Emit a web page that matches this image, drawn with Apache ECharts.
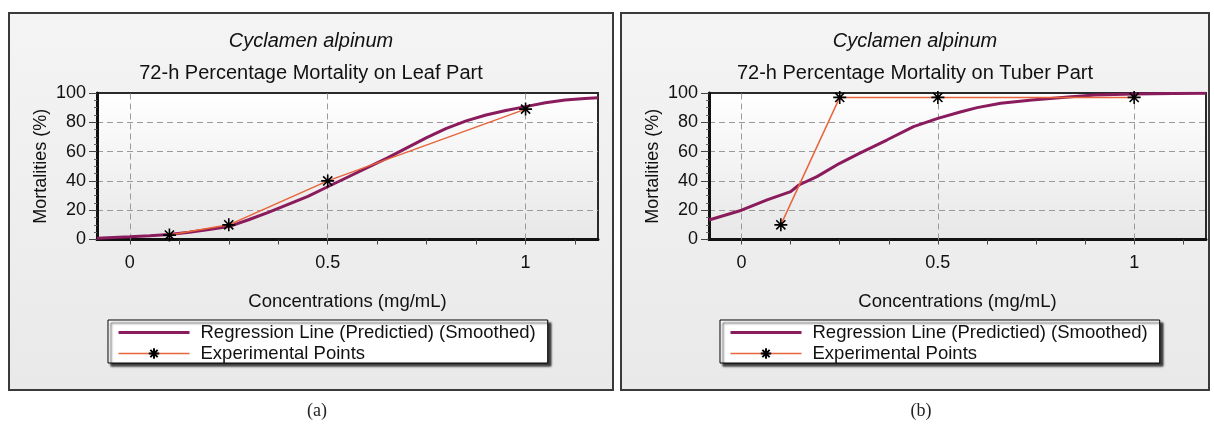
<!DOCTYPE html>
<html>
<head>
<meta charset="utf-8">
<title>Cyclamen alpinum - 72-h Percentage Mortality</title>
<script src="https://cdn.jsdelivr.net/npm/echarts@6/dist/echarts.min.js"></script>
<style>
  html, body { margin: 0; padding: 0; background: #fff; }
  #chart { width: 1214px; height: 424px; }
</style>
</head>
<body>
<div id="chart"></div>
<script>
// axis ticks
const xLabelTicks = [0, 0.5, 1];
const xMinorTicks = [0, 0.125, 0.25, 0.375, 0.5, 0.625, 0.75, 0.875, 1, 1.125];

// (a) leaf part
const leafExpX = [0.1, 0.25, 0.5, 1];
const leafExpY = [3, 10, 40, 89];
const leafRegX = [-0.083, 0, 0.05, 0.1, 0.15, 0.2, 0.25, 0.3, 0.35, 0.4, 0.45, 0.5, 0.55, 0.6,
  0.65, 0.7, 0.75, 0.8, 0.85, 0.9, 0.95, 1, 1.05, 1.1, 1.15, 1.183];
const leafRegY = [0.8, 1.8, 2.5, 3.4, 5, 6.8, 8.8, 13.5, 18.5, 24, 29.5, 36, 42.5, 49,
  55.5, 62.5, 69.5, 75.8, 81, 85, 88, 90.7, 93.3, 95.2, 96.3, 96.8];

// (b) tuber part
const tuberExpX = [0.1, 0.25, 0.5, 1];
const tuberExpY = [10, 97, 97, 97];
const tuberRegX = [-0.083, 0, 0.065, 0.125, 0.146, 0.192, 0.25, 0.3, 0.37, 0.438, 0.5, 0.557,
  0.6, 0.66, 0.74, 0.84, 0.9, 1, 1.1, 1.183];
const tuberRegY = [13.3, 20, 27, 32.7, 37.2, 42.9, 52, 58.8, 67.9, 77, 82.7, 87,
  90, 93, 95.2, 97.5, 98.6, 99.4, 99.7, 99.8];

const zip = (xs, ys) => xs.map((x, i) => [x, ys[i]]);

const FONT = "'Liberation Sans', Arial, sans-serif";
const REG_NAME = "Regression Line (Predictied) (Smoothed)";
const EXP_NAME = "Experimental Points";
const PURPLE = "#8a1b5c";
const ORANGE = "#e8643a";
const STAR = "path://M10,0L10,20M0,10L20,10M3,3L17,17M3,17L17,3";

const chart = echarts.init(document.getElementById("chart"));

// the two panels, left = (a), right = (b)
const panels = [
  { box: [9, 13, 604, 377], plotLeft: 97, plotWidth: 501, legendLeft: 108, cap: "(a)",
    title: "72-h Percentage Mortality on Leaf Part", reg: zip(leafRegX, leafRegY), exp: zip(leafExpX, leafExpY) },
  { box: [621, 13, 588, 377], plotLeft: 709, plotWidth: 497, legendLeft: 720, cap: "(b)",
    title: "72-h Percentage Mortality on Tuber Part", reg: zip(tuberRegX, tuberRegY), exp: zip(tuberExpX, tuberExpY) },
];

const plotBg = new echarts.graphic.LinearGradient(0, 0, 0, 1, [
  { offset: 0, color: "#ffffff" },
  { offset: 1, color: "#e7e7e7" },
]);
const panelBg = new echarts.graphic.LinearGradient(0, 0, 0, 1, [
  { offset: 0, color: "#f4f4f4" },
  { offset: 1, color: "#e9e9e9" },
]);

const grids = [], xAxes = [], yAxes = [], series = [], legends = [], graphics = [];

panels.forEach((p, i) => {
  const cx = p.box[0] + p.box[2] / 2;

  graphics.push({
    type: "rect", z: -10,
    shape: { x: p.box[0], y: p.box[1], width: p.box[2], height: p.box[3] },
    style: { fill: panelBg, stroke: "#3a3a3a", lineWidth: 2 },
  });
  graphics.push({
    type: "text", z: 10, x: cx, y: 41,
    style: { text: "Cyclamen alpinum", font: "italic 20px " + FONT, fill: "#111", align: "center", verticalAlign: "middle" },
  });
  graphics.push({
    type: "text", z: 10, x: cx, y: 73,
    style: { text: p.title, font: "20px " + FONT, fill: "#111", align: "center", verticalAlign: "middle" },
  });
  graphics.push({
    type: "text", z: 10, x: cx + 6, y: 411,
    style: { text: p.cap, font: "18px 'Liberation Serif', 'DejaVu Serif', serif", fill: "#222", align: "center", verticalAlign: "middle" },
  });

  grids.push({
    left: p.plotLeft, top: 93, width: p.plotWidth, height: 146.5,
    show: true, backgroundColor: plotBg, borderColor: "#2a2a2a", borderWidth: 2,
  });

  xAxes.push({
    type: "value", gridIndex: i, min: -0.083, max: 1.183,
    axisLine: { onZero: false, lineStyle: { color: "#111", width: 3 } },
    axisTick: { customValues: xMinorTicks, length: 5, lineStyle: { color: "#444" } },
    axisLabel: { customValues: xLabelTicks, margin: 15, fontSize: 18, color: "#111", fontFamily: FONT },
    splitLine: { show: false },
    name: "Concentrations (mg/mL)", nameLocation: "middle", nameGap: 53,
    nameTextStyle: { fontSize: 18.5, color: "#111", fontFamily: FONT },
  });

  yAxes.push({
    type: "value", gridIndex: i, min: 0, max: 100, interval: 20,
    axisLine: { show: true, onZero: false, lineStyle: { color: "#111", width: 3 } },
    axisTick: { show: true, length: 8, lineStyle: { color: "#444" } },
    minorTick: { show: true, splitNumber: 4, length: 3, lineStyle: { color: "#666" } },
    axisLabel: { margin: 11, fontSize: 18, color: "#111", fontFamily: FONT },
    splitLine: { showMinLine: false, showMaxLine: false, lineStyle: { type: [6, 4], color: "#9a9a9a", width: 1 } },
    name: "Mortalities (%)", nameLocation: "middle", nameGap: 47,
    nameTextStyle: { fontSize: 18, color: "#111", fontFamily: FONT },
  });

  // vertical dashed gridlines at the labelled x ticks
  series.push({
    type: "line", xAxisIndex: i, yAxisIndex: i, data: [], z: 1, silent: true,
    markLine: {
      silent: true, symbol: "none", z: 1, animation: false,
      label: { show: false },
      lineStyle: { type: [6, 4], color: "#9a9a9a", width: 1 },
      data: xLabelTicks.map(v => ({ xAxis: v })),
    },
  });

  series.push({
    name: REG_NAME, type: "line", xAxisIndex: i, yAxisIndex: i, data: p.reg,
    showSymbol: false, symbol: "none", z: 3,
    lineStyle: { color: PURPLE, width: 3 }, itemStyle: { color: PURPLE },
  });

  series.push({
    name: EXP_NAME, type: "line", xAxisIndex: i, yAxisIndex: i, data: p.exp,
    symbol: STAR, symbolSize: 13, z: 4,
    lineStyle: { color: ORANGE, width: 1.5 },
    itemStyle: { color: "#000", borderColor: "#000", borderWidth: 1.6 },
  });

  legends.push({
    data: [
      { name: REG_NAME, itemStyle: { opacity: 0 }, lineStyle: { width: 3 } },
      { name: EXP_NAME, lineStyle: { width: 1.5 } },
    ],
    icon: "inherit",
    orient: "vertical", left: p.legendLeft, top: 320,
    itemWidth: 71, itemHeight: 13, itemGap: 2,
    padding: [3, 12, 0, 9], selectedMode: false,
    backgroundColor: "#fff", borderColor: "#000", borderWidth: 1,
    shadowColor: "rgba(0,0,0,0.75)", shadowBlur: 2, shadowOffsetX: 3, shadowOffsetY: 3,
    textStyle: { fontSize: 18.5, lineHeight: 15, color: "#111", fontFamily: FONT, padding: [0, 0, 0, 6] },
  });
});

chart.setOption({
  animation: false,
  textStyle: { fontFamily: FONT },
  grid: grids,
  xAxis: xAxes,
  yAxis: yAxes,
  legend: legends,
  series: series,
  graphic: { elements: graphics },
});

window.addEventListener("resize", () => chart.resize());
</script>
</body>
</html>
